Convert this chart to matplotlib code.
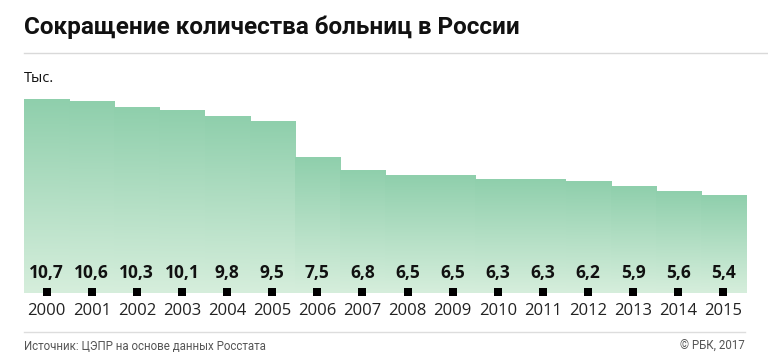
import numpy as np
import matplotlib
matplotlib.use("Agg")
import matplotlib.pyplot as plt
from matplotlib.colors import LinearSegmentedColormap

years = ["2000", "2001", "2002", "2003", "2004", "2005", "2006", "2007",
         "2008", "2009", "2010", "2011", "2012", "2013", "2014", "2015"]
values = [10.7, 10.6, 10.3, 10.1, 9.8, 9.5, 7.5, 6.8,
          6.5, 6.5, 6.3, 6.3, 6.2, 5.9, 5.6, 5.4]
labels = ["10,7", "10,6", "10,3", "10,1", "9,8", "9,5", "7,5", "6,8",
          "6,5", "6,5", "6,3", "6,3", "6,2", "5,9", "5,6", "5,4"]

W, H = 768, 362
fig = plt.figure(figsize=(W / 100, H / 100), dpi=100)

def fx(px):
    return px / W

def fy(py):
    return 1 - py / H

# axes: x from 24 to 746, y baseline at 293, top at 93
ax = fig.add_axes([fx(24), fy(293), fx(746) - fx(24), (293 - 93) / H])

cmap = LinearSegmentedColormap.from_list("g", ["#d6eedc", "#8fcfac"])
grad = np.linspace(0, 1, 256).reshape(-1, 1)
for i, v in enumerate(values):
    ax.imshow(grad, extent=[i - 0.5, i + 0.5, 0, v], origin="lower",
              cmap=cmap, aspect="auto", interpolation="bilinear", zorder=1)
    ax.text(i, 1.1, labels[i], ha="center", va="center", fontsize=12.5,
            fontweight="bold", color="#111111", family="Open Sans", zorder=3)
ax.set_xlim(-0.5, len(values) - 0.5)
ax.set_ylim(0, 200 / 18.05)
ax.axis("off")

ax.scatter(range(len(values)), [0.05] * len(values), marker="s", s=32,
           color="black", zorder=4, clip_on=False, linewidths=0)

for i, y in enumerate(years):
    fig.text(fx(24 + 45.125 * (i + 0.5)), fy(311), y, ha="center", va="center",
             fontsize=12, color="#222222", family="Open Sans")

fig.text(fx(24), fy(27), "Сокращение количества больниц в России", ha="left",
         va="center", fontsize=17.5, fontweight="bold", color="#111111",
         family="Roboto")
fig.add_artist(plt.Line2D([fx(24), 1], [fy(53), fy(53)], color="#d9d9d9", lw=1))
fig.text(fx(24), fy(78), "Тыс.", ha="left", va="center", fontsize=10.5,
         color="#111111", family="Open Sans")

fig.add_artist(plt.Line2D([fx(24), fx(745)], [fy(332), fy(332)], color="#dddddd", lw=1))
fig.text(fx(24), fy(346), "Источник: ЦЭПР на основе данных Росстата", ha="left",
         va="center", fontsize=8.3, color="#555555", family="Roboto")
fig.text(fx(745), fy(346), "© РБК, 2017", ha="right", va="center", fontsize=8.3,
         color="#555555", family="Roboto")

fig.savefig("out.png", dpi=100)
